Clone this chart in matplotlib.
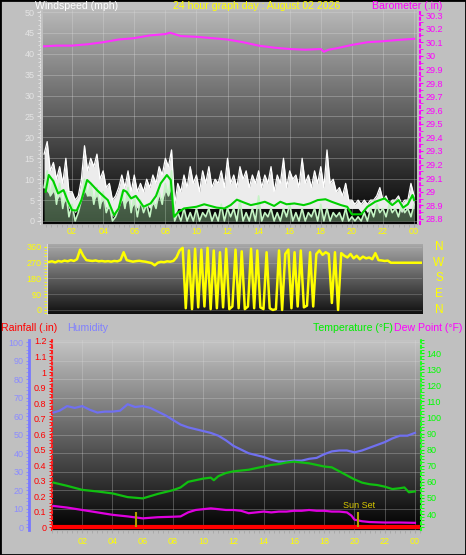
import numpy as np
import matplotlib.pyplot as plt
from matplotlib.colors import LinearSegmentedColormap
from matplotlib.ticker import MultipleLocator, FixedLocator, FuncFormatter
from matplotlib.patches import Rectangle

plt.rcParams['font.family'] = ['Liberation Sans', 'DejaVu Sans']

# ---- wind speed (mph), samples every 0.2 h from 0.2 to 24.0 ----
wind_hours = np.arange(1, 121) * 0.2
gust_mph = [16, 19, 12, 14, 10, 13, 9, 15, 7, 7,
            5, 6, 10, 18, 12, 15, 13, 16, 10, 12,
            8, 9, 5, 6, 8, 11, 8, 12, 7, 11,
            7, 9, 7, 10, 8, 11, 9, 13, 11, 15,
            13, 17, 4, 9, 7, 11, 8, 13, 9, 11,
            7, 12, 9, 13, 8, 10, 9, 12, 8, 15,
            9, 11, 8, 13, 10, 12, 8, 11, 9, 12,
            8, 11, 9, 13, 7, 11, 9, 15, 8, 12,
            10, 11, 8, 15, 9, 11, 8, 12, 9, 13,
            8, 17, 9, 10, 7, 8, 6, 9, 5, 5,
            4, 5, 4, 5, 4, 5, 5, 6, 8, 5,
            6, 4, 5, 5, 6, 4, 5, 5, 9, 6]
lull_mph = [8, 7, 6, 7, 5, 6, 4, 5, 3, 3,
            2, 3, 5, 7, 6, 6, 5, 6, 4, 5,
            3, 3, 1, 2, 3, 5, 4, 5, 3, 4,
            3, 4, 3, 4, 3, 4, 4, 6, 5, 7,
            6, 8, 1, 3, 3, 3, 3, 3, 3, 3,
            3, 3, 3, 3, 3, 3, 3, 3, 3, 3,
            3, 3, 3, 3, 3, 3, 3, 3, 3, 3,
            3, 3, 3, 3, 3, 3, 3, 3, 3, 3,
            3, 3, 3, 3, 3, 3, 3, 3, 3, 3,
            3, 3, 3, 3, 3, 3, 3, 3, 3, 3,
            3, 3, 2, 3, 2, 3, 3, 3, 3, 3,
            3, 3, 3, 3, 3, 2, 3, 3, 3, 3]
speed_mph = [8, 12, 6, 10, 4, 9, 3, 7, 1, 4,
             0, 2, 5, 10, 6, 9, 4, 8, 3, 7,
             2, 4, 0, 1, 3, 7, 3, 8, 2, 6,
             1, 5, 2, 4, 1, 5, 3, 7, 4, 9,
             6, 12, 0, 2, 0, 3, 0, 2, 0, 3,
             0, 2, 1, 3, 0, 2, 0, 4, 0, 3,
             1, 3, 0, 5, 0, 2, 0, 3, 0, 6,
             0, 2, 1, 3, 0, 2, 0, 3, 1, 4,
             0, 2, 0, 3, 0, 2, 1, 3, 0, 4,
             0, 3, 0, 2, 1, 2, 0, 3, 0, 1,
             0, 1, 0, 2, 0, 3, 1, 4, 2, 3,
             1, 4, 2, 3, 1, 4, 2, 3, 1, 4]
avg_hours = [0.3, 0.5, 0.8, 1.1, 1.45, 1.7, 2.0, 2.3, 2.6, 2.97, 3.2, 3.6, 4.0, 4.3,
             4.7, 5.0, 5.3, 5.5, 5.8, 6.1, 6.3, 6.6, 7.05, 7.4, 7.7, 8.1, 8.35, 8.55,
             8.8, 9.2, 9.6, 10.0, 10.5, 11.0, 11.3, 11.8, 12.2, 12.6, 13.0, 13.5, 14.0,
             14.4, 15.0, 15.4, 15.8, 16.3, 16.9, 17.3, 17.8, 18.3, 18.7, 19.3, 19.7, 20.0,
             20.6, 21.0, 21.5, 22.1, 22.6, 23.0, 23.3, 23.6, 23.9, 24.0]
avg_mph = [7, 11, 9.5, 6.6, 7.4, 5, 2.6, 2.5, 5, 9.8, 9, 7.4, 6, 5,
           1.4, 3, 7.4, 7, 5.4, 6, 5, 3.4, 4.2, 6, 9, 11, 9.8, 1,
           2, 3, 3.2, 3.4, 4, 3.5, 3.2, 3, 3.8, 5.1, 4.5, 3.8, 4.2,
           4.6, 3.6, 4.6, 4, 4.2, 3.8, 4.2, 5, 5.2, 4.6, 3.8, 3.4, 1.6,
           1.6, 3.4, 4.6, 5.4, 3.8, 5, 3.2, 4, 6.2, 5]

# ---- barometer (inHg) ----
baro_hours = [0.2, 1, 2, 3, 4, 5, 6, 7, 8, 8.3, 9, 10, 11, 12, 13, 14, 15, 16, 17, 18,
              18.2, 18.5, 19, 20, 21, 22, 23, 24]
baro_inhg = [30.07, 30.075, 30.075, 30.085, 30.1, 30.12, 30.13, 30.15, 30.16, 30.17,
             30.145, 30.14, 30.13, 30.12, 30.1, 30.075, 30.06, 30.05, 30.045, 30.05,
             30.03, 30.045, 30.055, 30.08, 30.1, 30.107, 30.117, 30.125]

# ---- wind direction (deg), every 0.2 h from 0 to 24 ----
dir_hours = np.arange(0, 121) * 0.2
dir_deg = [275, 278, 272, 280, 276, 282, 278, 285, 280, 290,
           345, 310, 285, 282, 280, 283, 278, 280, 277, 279,
           276, 280, 278, 285, 330, 285, 280, 276, 279, 281,
           278, 276, 272, 268, 255, 270, 275, 273, 278, 276,
           280, 300, 340, 355, 10, 340, 5, 350, 15, 345,
           20, 355, 5, 340, 10, 330, 15, 350, 5, 20,
           345, 10, 335, 5, 20, 350, 10, 340, 15, 5,
           330, 10, 0, 5, 340, 0, 320, 345, 10, 330,
           20, 340, 15, 25, 330, 20, 320, 340, 315, 330,
           320, 40, 330, 0, 325, 310, 300, 320, 295, 310,
           290, 305, 295, 300, 290, 325, 285, 283, 280, 282,
           270, 270, 270, 270, 270, 270, 270, 270, 270, 270, 270]

# ---- temperature / dew point (F), humidity (%), rain (in) ----
temp_hours = [0.1, 1, 2, 3, 4, 5, 6, 7, 8, 8.5, 9, 9.5, 10, 10.5, 10.7, 11, 11.5, 12,
              12.5, 13, 13.5, 14, 14.5, 15, 15.5, 16, 16.5, 17, 17.5, 18, 18.5, 19,
              19.5, 20, 20.5, 21, 21.5, 22, 22.5, 23, 23.3, 23.6, 24]
temp_f = [59.5, 57.5, 55, 54, 52.8, 50.5, 49.7, 52.5, 54.8, 56.5, 60, 61, 62, 62.6, 61,
          63.5, 65.5, 66.5, 67, 67.5, 68.5, 69.5, 70.5, 71, 72, 72.5, 72, 71.5, 70.5,
          69.5, 69, 66.5, 64, 61.5, 59.5, 58.5, 58, 57, 55.5, 56, 56.5, 53.5, 54]
dew_hours = [0.1, 1, 2, 3, 4, 5, 6, 7, 8, 8.5, 9, 9.5, 10, 10.5, 11, 11.5, 12, 12.5, 13,
             13.5, 14, 14.5, 15, 15.5, 16, 16.5, 17, 17.5, 18, 18.5, 19, 19.5, 19.8,
             20, 20.5, 21, 22, 23, 24]
dew_f = [45, 44, 42.5, 41, 39.5, 38.5, 37.3, 38, 38.3, 38.5, 41, 42.5, 43, 43.5, 43,
         42.5, 42.5, 42, 40.5, 41, 41.5, 41, 41.5, 41.5, 42, 42, 42.5, 42, 42, 41.5,
         41.5, 41, 39, 36.5, 35.5, 35, 34.7, 34.7, 34.5]
hum_hours = [0.1] + list(np.arange(1, 49) * 0.5)
hum_pct = [62, 63, 65.5, 64.5, 65.5, 63.5, 62, 62.5, 62.5, 63,
           66.5, 65, 65.5, 64.5, 62.5, 60.5, 58, 55.5, 54, 53,
           52, 51, 49.5, 47, 44, 42, 40, 39, 38, 36.5,
           35.5, 35.5, 36, 36, 37, 37.5, 39.5, 41, 41.5, 41.5,
           40.5, 41.5, 43, 44.5, 46, 48, 49.5, 49.5, 51]
rain_hours = [0.1, 24.2]
rain_in = [0, 0]
sun_hours = [5.55, 20.25]

hour_ticks = list(range(2, 25, 2))
hour_labels = ['%02d' % (h % 24) for h in hour_ticks]

BG = '#c0c0c0'
W, H = 466, 555


def box(left, top, right, bottom):
    return [left / W, 1 - bottom / H, (right - left) / W, (bottom - top) / H]


def gradient(ax, top, bottom):
    cmap = LinearSegmentedColormap.from_list('g', [bottom, top])
    ax.imshow(np.linspace(0, 1, 256).reshape(-1, 1), cmap=cmap, extent=(0, 1, 0, 1),
              transform=ax.transAxes, aspect='auto', origin='lower', zorder=0)


def fmt_g(v, pos):
    return '%g' % round(v, 1)


fig = plt.figure(figsize=(W / 100, H / 100), dpi=100, facecolor=BG)

# ---------------- panel 1: wind speed + barometer ----------------
ax1 = fig.add_axes(box(43, 10, 417, 224))
gradient(ax1, '#b8b8b8', '#000000')
ax1.fill_between(wind_hours, lull_mph, gust_mph, color='#ececec', lw=0, zorder=2)
ax1.plot(wind_hours, gust_mph, color='white', lw=0.9, zorder=2)
ax1.fill_between(wind_hours, 0, speed_mph, color='#9fd89f', alpha=0.4, lw=0, zorder=3)
ax1.plot(wind_hours, speed_mph, color='#c4f4c4', lw=1.2, zorder=3)
ax1.plot(avg_hours, avg_mph, color='#00d000', lw=1.5, zorder=4)
ax1.set_xlim(0.13, 24.19)
ax1.set_ylim(-0.72, 50.48)
ax1.yaxis.set_major_locator(MultipleLocator(5))
ax1.yaxis.set_minor_locator(MultipleLocator(1))
ax1.xaxis.set_major_locator(FixedLocator(hour_ticks))
ax1.xaxis.set_minor_locator(MultipleLocator(1 / 3))
ax1.set_xticklabels(hour_labels)
ax1.grid(True, color='#dcdcdc', lw=0.5, alpha=0.45)
ax1.tick_params(axis='y', colors='#e4e4e4', labelsize=6.5, length=2, width=0.8, pad=2)
ax1.tick_params(axis='y', which='minor', colors='#e4e4e4', length=1.5)
ax1.tick_params(axis='x', which='both', colors='#a8a8a8', length=2, labelsize=6.5,
                labelcolor='#ffff00', pad=0)
for s in ['top', 'right']:
    ax1.spines[s].set_visible(False)
ax1.spines['left'].set_color('#e0e0e0')
ax1.spines['left'].set_linestyle(':')
ax1.spines['left'].set_position(('outward', 2))
ax1.spines['bottom'].set_color('#a8a8a8')

ax1b = ax1.twinx()
ax1b.plot(baro_hours, baro_inhg, color='#ff30ff', lw=1.5)
ax1b.set_ylim(28.763, 30.337)
ax1b.yaxis.set_major_locator(MultipleLocator(0.1))
ax1b.yaxis.set_minor_locator(MultipleLocator(0.05))
ax1b.yaxis.set_major_formatter(FuncFormatter(fmt_g))
ax1b.tick_params(axis='y', which='both', colors='#ff00ff', labelsize=6.5, length=2, pad=2)
for s in ['top', 'left', 'bottom']:
    ax1b.spines[s].set_visible(False)
ax1b.spines['right'].set_color('#ff00ff')
ax1b.spines['right'].set_linestyle(':')
ax1b.spines['right'].set_linewidth(1.5)
ax1b.spines['right'].set_position(('outward', 2))

# ---------------- panel 2: wind direction ----------------
ax2 = fig.add_axes(box(47, 244, 422, 314))
gradient(ax2, '#a8a8a8', '#101010')
ax2.plot(dir_hours, dir_deg, color='#ffff00', lw=1.8, zorder=3)
ax2.set_xlim(-0.13, 24.0)
ax2.set_ylim(-23, 377)
ax2.yaxis.set_major_locator(FixedLocator([0, 90, 180, 270, 360]))
ax2.yaxis.set_minor_locator(MultipleLocator(18))
ax2.set_xticks([])
ax2.grid(True, axis='y', color='#d0d0d0', lw=0.5, alpha=0.35)
ax2.tick_params(axis='y', which='both', colors='#ffff00', labelsize=6.5, length=2, pad=2)
for s in ['top', 'right', 'bottom']:
    ax2.spines[s].set_visible(False)
ax2.spines['left'].set_color('#d8d8d8')
for lab, deg in zip(['N', 'W', 'S', 'E', 'N'], [360, 270, 180, 90, 0]):
    ax2.text(1.045, deg, lab, transform=ax2.get_yaxis_transform(), color='#ffff00',
             fontsize=8.5, ha='center', va='center')

# ---------------- panel 3: rain, humidity, temperature, dew point ----------------
ax3 = fig.add_axes(box(52, 340, 421, 530))
gradient(ax3, '#c4c4c4', '#000000')
ax3.set_xlim(0, 24.4)
ax3.set_ylim(-0.017, 1.206)
ax3.yaxis.set_major_locator(MultipleLocator(0.1))
ax3.yaxis.set_minor_locator(MultipleLocator(0.02))
ax3.yaxis.set_major_formatter(FuncFormatter(fmt_g))
ax3.xaxis.set_major_locator(FixedLocator(hour_ticks))
ax3.xaxis.set_minor_locator(MultipleLocator(1 / 3))
ax3.set_xticklabels(hour_labels)
ax3.tick_params(axis='y', which='both', colors='#ff0000', labelsize=6.5, length=2, pad=2)
ax3.tick_params(axis='x', which='both', colors='#a8a8a8', length=2, labelsize=6.5,
                labelcolor='#ffff00', pad=3)
for s in ['top', 'right']:
    ax3.spines[s].set_visible(False)
ax3.spines['left'].set_color('#ff2020')
ax3.spines['left'].set_linestyle(':')
ax3.spines['left'].set_linewidth(1.5)
ax3.spines['bottom'].set_color('#a8a8a8')

axh = ax3.twinx()
axh.set_ylim(-1.46, 101.2)
axh.yaxis.set_ticks_position('left')
axh.spines['left'].set_position(('axes', -23 / 369))
axh.spines['left'].set_color('#7878ff')
axh.spines['left'].set_linewidth(2)
axh.yaxis.set_major_locator(MultipleLocator(10))
axh.yaxis.set_minor_locator(MultipleLocator(2))
axh.tick_params(axis='y', which='both', colors='#8c8cff', labelsize=6.5, length=2, pad=2)
for s in ['top', 'right', 'bottom']:
    axh.spines[s].set_visible(False)
axh.grid(True, axis='y', color='#dcdcdc', lw=0.5, alpha=0.4)
ax3.grid(True, axis='x', color='#dcdcdc', lw=0.5, alpha=0.4)
axh.plot(hum_hours, hum_pct, color='#7070f0', lw=1.6)

axt = ax3.twinx()
axt.set_ylim(30.06, 148.1)
axt.yaxis.set_minor_locator(MultipleLocator(2))
axt.set_yticks(list(range(40, 150, 10)))
axt.tick_params(axis='y', which='both', colors='#00ff00', labelsize=6.5, length=2, pad=2)
for s in ['top', 'left', 'bottom']:
    axt.spines[s].set_visible(False)
axt.spines['right'].set_color('#20ff20')
axt.spines['right'].set_linestyle(':')
axt.spines['right'].set_linewidth(1.5)
axt.plot(temp_hours, temp_f, color='#10c010', lw=1.6)
axt.plot(dew_hours, dew_f, color='#e000e0', lw=1.6)

ax_top = ax3.twinx()
ax_top.set_ylim(-0.017, 1.206)
ax_top.axis('off')
ax_top.plot(rain_hours, rain_in, color='#ff0000', lw=3)
ax_top.vlines(sun_hours, 0, 0.1, color='#b0a000', lw=1.5)
ax_top.text(19.25, 0.11, 'Sun Set', color='#d8c800', fontsize=6.5, va='bottom')

# ---------------- headings ----------------
hfs = 7.6
fig.text(35 / W, 1 - 9 / H, 'Windspeed (mph)', color='white', fontsize=hfs, va='baseline')
fig.text(257 / W, 1 - 9 / H, '24 hour graph day : August 02 2026', color='#ffff00',
         fontsize=hfs, va='baseline', ha='center')
fig.text(372 / W, 1 - 9 / H, 'Barometer (.in)', color='#ff00ff', fontsize=hfs, va='baseline')
fig.text(1 / W, 1 - 331 / H, 'Rainfall (.in)', color='#ff0000', fontsize=hfs, va='baseline')
fig.text(67 / W, 1 - 331 / H, 'Humidity', color='#8080ff', fontsize=hfs, va='baseline')
fig.text(313 / W, 1 - 331 / H, 'Temperature (°F)', color='#00ee00', fontsize=hfs, va='baseline')
fig.text(394 / W, 1 - 331 / H, 'Dew Point (°F)', color='#ff00ff', fontsize=hfs, va='baseline')

fig.patches.append(Rectangle((0, 0), 1, 1, transform=fig.transFigure, fill=False,
                             edgecolor='black', lw=2))

fig.savefig('out.png', dpi=100, facecolor=BG)
